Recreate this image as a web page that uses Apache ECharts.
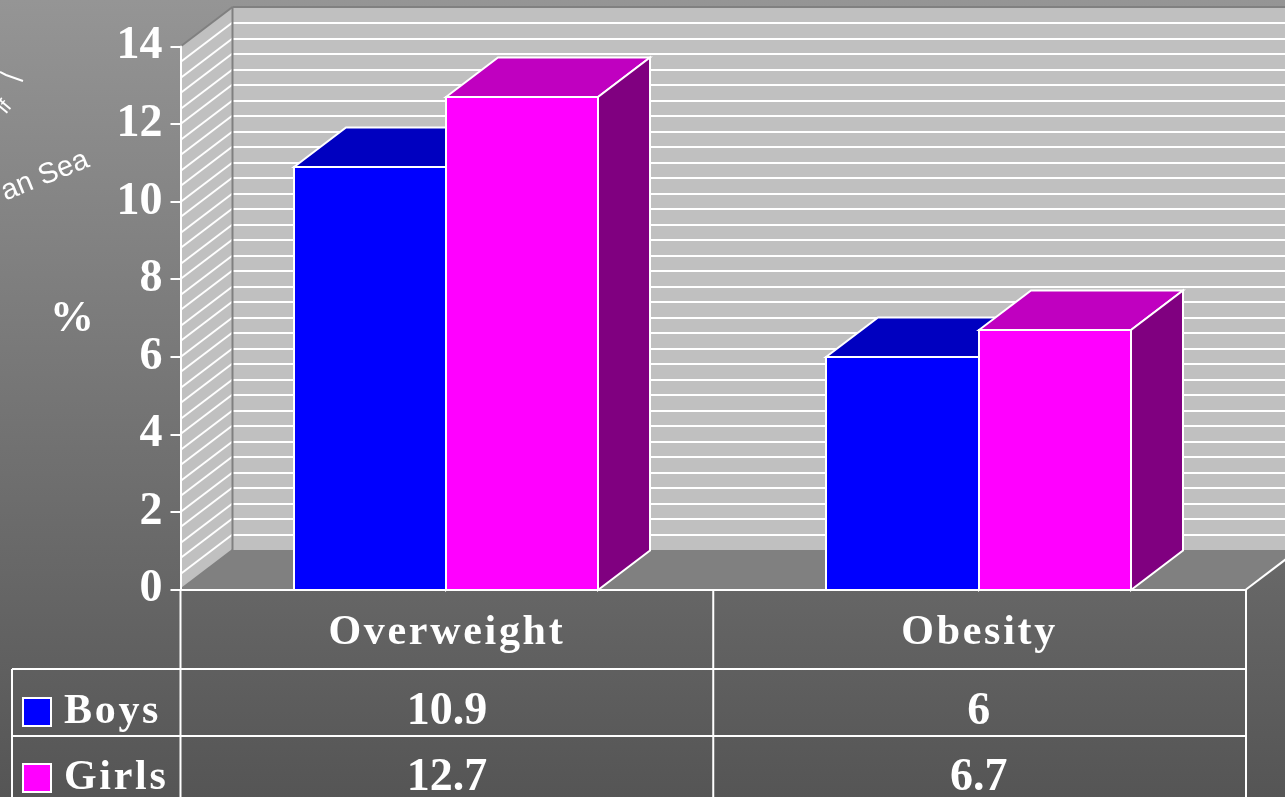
<!DOCTYPE html>
<html>
<head>
<meta charset="utf-8">
<style>html,body{margin:0;padding:0;background:#777}#chart{width:1285px;height:797px}</style>
<script src="https://cdn.jsdelivr.net/npm/echarts@6/dist/echarts.min.js"></script>
</head>
<body>
<div id="chart"></div>
<script>
// Chart data
const categories = ['Overweight', 'Obesity'];
const boys = [10.9, 6];
const girls = [12.7, 6.7];
const yTicks = { min: 0, max: 14, interval: 2 };
const yTitle = '%';
const wallLineStep = 0.4;

// Colours
const white = '#ffffff';
const wallGrey = '#c0c0c0';
const floorGrey = '#808080';
const boyShades = { front: '#0000ff', top: '#0000c0', side: '#000080' };
const girlShades = { front: '#ff00ff', top: '#c000c0', side: '#800080' };

// Layout of the plot and the data table under it
const plot = { left: 180.5, top: 46.5, width: 1065.5, height: 543 };
const depth = { x: 52, y: 39.5 };
const tableRows = [669, 736];
const tableLeft = 12;
const pageBottom = 797;
const serifBold = '"Liberation Serif", "Times New Roman", serif';

function renderWalls(params, api) {
  const cs = params.coordSys;
  const x0 = cs.x, x1 = cs.x + cs.width;
  const y0 = api.coord([0, yTicks.min])[1];
  const yTop = api.coord([0, yTicks.max])[1];
  const d = depth;
  const poly = (points, style) => ({ type: 'polygon', shape: { points }, style });
  const line = (a, b, stroke, lineWidth) => ({
    type: 'line',
    shape: { x1: a[0], y1: a[1], x2: b[0], y2: b[1] },
    style: { stroke, lineWidth }
  });
  const children = [
    poly([[x0 + d.x, yTop - d.y], [x1 + d.x, yTop - d.y], [x1 + d.x, y0 - d.y], [x0 + d.x, y0 - d.y]], { fill: wallGrey }),
    poly([[x0, y0], [x0 + d.x, y0 - d.y], [x0 + d.x, yTop - d.y], [x0, yTop]], { fill: wallGrey })
  ];
  // Hatching on both walls, one line per step of the value axis
  for (let i = 1; i * wallLineStep < yTicks.max; i++) {
    const y = Math.round(api.coord([0, i * wallLineStep])[1]);
    children.push(line([x0, y], [x0 + d.x, y - d.y], white, 2));
    children.push(line([x0 + d.x, Math.round(y - d.y)], [x1 + d.x, Math.round(y - d.y)], white, 2));
  }
  children.push(
    poly([[x0, y0], [x0 + d.x, y0 - d.y], [x1 + d.x, y0 - d.y], [x1, y0]], { fill: floorGrey }),
    line([x0 + d.x, yTop - d.y], [x0 + d.x, y0 - d.y], floorGrey, 2),
    line([x0 + d.x, yTop - d.y], [x1 + d.x, yTop - d.y], floorGrey, 2),
    line([x0, yTop], [x0 + d.x, yTop - d.y], floorGrey, 2),
    line([x0, y0], [x0 + d.x, y0 - d.y], floorGrey, 2),
    line([x1, y0], [x1 + d.x, y0 - d.y], white, 2)
  );
  return { type: 'group', children };
}

// A box: front face, lid and right side, drawn from the category and value
function boxRenderer(slot, shades) {
  return function (params, api) {
    const top = api.coord([api.value(0), api.value(1)]);
    const base = api.coord([api.value(0), 0]);
    const barW = api.size([1, 0])[0] / 3.5;
    const l = Math.round(top[0] + slot * barW - 1), r = Math.round(top[0] + (slot + 1) * barW - 1);
    const t = Math.round(top[1]), b = Math.round(base[1]);
    const d = depth;
    const edge = { stroke: white, lineWidth: 2, lineJoin: 'miter' };
    return {
      type: 'group',
      children: [
        { type: 'polygon', shape: { points: [[l, t], [l + d.x, t - d.y], [r + d.x, t - d.y], [r, t]] },
          style: Object.assign({ fill: shades.top }, edge) },
        { type: 'polygon', shape: { points: [[r, t], [r + d.x, t - d.y], [r + d.x, b - d.y], [r, b]] },
          style: Object.assign({ fill: shades.side }, edge) },
        { type: 'rect', shape: { x: l, y: t, width: r - l, height: b - t },
          style: Object.assign({ fill: shades.front }, edge) }
      ]
    };
  };
}

function boxSeries(name, values, slot, shades) {
  return {
    type: 'custom',
    name,
    z: 3,
    itemStyle: { color: shades.front },
    renderItem: boxRenderer(slot, shades),
    encode: { x: 0, y: 1 },
    data: values.map((v, i) => [i, v])
  };
}

// One legend per table row, so each key sits in the row of its figures
function rowLegend(name, top) {
  return {
    zlevel: 2,
    orient: 'vertical',
    left: 22,
    top,
    padding: 0,
    itemWidth: 28,
    itemHeight: 28,
    data: [{ name, icon: 'rect' }],
    itemStyle: { borderColor: white, borderWidth: 2 },
    textStyle: { color: white, fontFamily: serifBold, fontWeight: 'bold', fontSize: 42, lineHeight: 28, padding: [6, 0, 0, 8] }
  };
}

// Ruled lines and figures of the data table
function tableGraphics(chart) {
  const items = [];
  const rule = (x1, y1, x2, y2) => items.push({
    type: 'line', zlevel: 1, z: 10,
    shape: { x1, y1, x2, y2 }, style: { stroke: white, lineWidth: 2 }
  });
  const xLeft = plot.left, xRight = plot.left + plot.width, xMid = plot.left + plot.width / 2;
  [xLeft, xMid, xRight].forEach(x => rule(x, plot.top + plot.height, x, pageBottom));
  rule(tableLeft, tableRows[0], tableLeft, pageBottom);
  tableRows.forEach(y => rule(tableLeft, y, xRight, y));
  const rowCentres = [712, 778];
  [boys, girls].forEach((row, r) => row.forEach((v, c) => {
    items.push({
      type: 'text', zlevel: 1, z: 10,
      x: chart.convertToPixel({ xAxisIndex: 0 }, c) - (c === 1 ? 1 : 0),
      y: rowCentres[r],
      style: { text: String(v), fill: white, font: 'bold 46px ' + serifBold, textAlign: 'center', textVerticalAlign: 'middle' }
    });
  }));
  // Value axis title
  items.push({
    type: 'text', x: 72, y: 320,
    style: { text: yTitle, fill: white, font: 'bold 44px ' + serifBold, textAlign: 'center', textVerticalAlign: 'middle' }
  });
  // Fragments of a map annotation showing at the left edge of the slide
  items.push(
    { type: 'text', x: 45, y: 176, rotation: 22 * Math.PI / 180,
      style: { text: 'an Sea', fill: white, font: '29px "Liberation Sans", Arial, sans-serif', textAlign: 'center', textVerticalAlign: 'middle' } },
    { type: 'text', x: 5, y: 107, rotation: 50 * Math.PI / 180,
      style: { text: 'lf', fill: white, font: '20px "Liberation Sans", Arial, sans-serif', textAlign: 'center', textVerticalAlign: 'middle' } },
    { type: 'polyline', shape: { points: [[0, 72], [6, 75], [23, 81]] }, style: { stroke: white, lineWidth: 2, fill: 'none' } }
  );
  return items;
}

const chart = echarts.init(document.getElementById('chart'));
// Table headings are tracked out; the library has no letter spacing, so it is set on their canvas layer
chart.getZr().painter.getLayer(2).ctx.letterSpacing = '2.7px';

chart.setOption({
  animation: false,
  backgroundColor: {
    type: 'linear', x: 0, y: 0, x2: 0, y2: 1,
    colorStops: [{ offset: 0, color: '#959595' }, { offset: 1, color: '#555555' }]
  },
  grid: { left: plot.left, top: plot.top, width: plot.width, height: plot.height },
  legend: [rowLegend('Boys', 691), rowLegend('Girls', 757)],
  xAxis: {
    type: 'category',
    zlevel: 2,
    data: categories,
    axisLine: { lineStyle: { color: white, width: 2 } },
    axisTick: { show: false },
    axisLabel: { color: white, fontFamily: serifBold, fontWeight: 'bold', fontSize: 42, margin: 23 },
    splitLine: { show: false }
  },
  yAxis: {
    type: 'value',
    zlevel: 1,
    min: yTicks.min,
    max: yTicks.max,
    interval: yTicks.interval,
    axisLine: { show: true, lineStyle: { color: white, width: 2 } },
    axisTick: { show: true, length: 10, lineStyle: { color: white, width: 2 } },
    axisLabel: { color: white, fontFamily: serifBold, fontWeight: 'bold', fontSize: 46, margin: 18, padding: [7, 0, 0, 0] },
    splitLine: { show: false }
  },
  series: [
    {
      type: 'custom',
      name: 'walls',
      z: 1,
      silent: true,
      renderItem: renderWalls,
      encode: { x: 0, y: 1 },
      data: [[0, 0]]
    },
    boxSeries('Boys', boys, -1, boyShades),
    boxSeries('Girls', girls, 0, girlShades)
  ]
});
chart.setOption({ graphic: tableGraphics(chart) });
</script>
</body>
</html>
